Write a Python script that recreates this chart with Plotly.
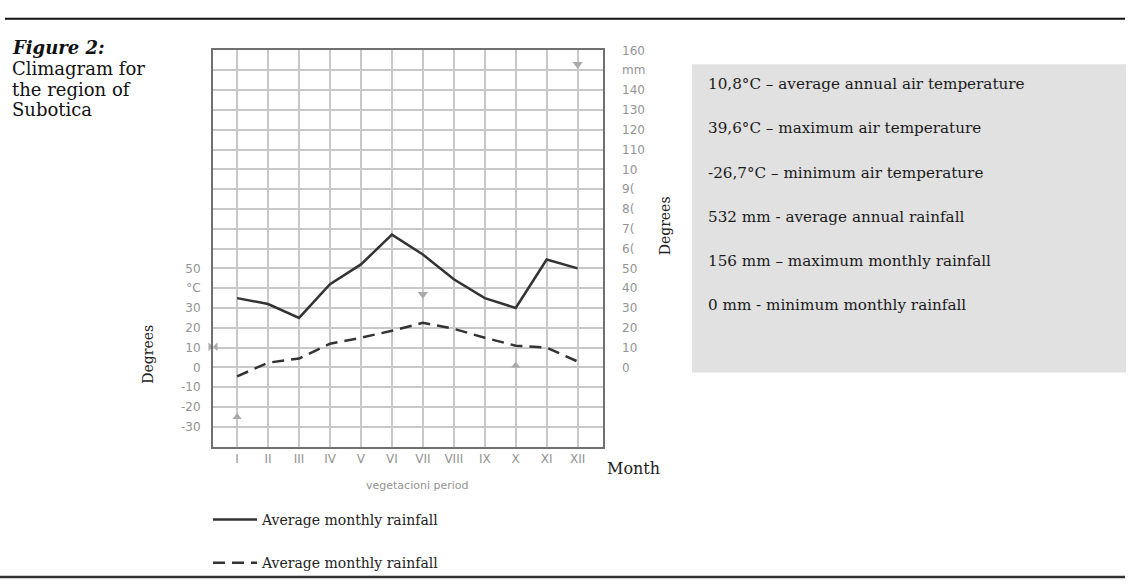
import plotly.graph_objects as go

W, H = 1129, 585

months = ["I", "II", "III", "IV", "V", "VI", "VII", "VIII", "IX", "X", "XI", "XII"]
month_pos = list(range(1, 13))
rainfall = [35, 32, 25, 42, 52, 67, 57, 44.5, 35, 30, 54.5, 50]
temperature = [-4.5, 2.4, 4.5, 12, 15, 18.5, 22.5, 19.5, 15, 11, 10, 3]

# extreme markers (month position, value)
max_pos = [12, 7]
max_val = [153, 37]
min_pos = [10, 1]
min_val = [1, -25]
avg_pos = [0.22]
avg_val = [10.5]

left_vals = [-30, -20, -10, 0, 10, 20, 30, 40, 50]
left_text = ["-30", "-20", "-10", "0", "10", "20", "30", "°C", "50"]
right_vals = [0, 10, 20, 30, 40, 50, 60, 70, 80, 90, 100, 110, 120, 130, 140, 150, 160]
right_text = ["0", "10", "20", "30", "40", "50", "6(", "7(", "8(", "9(", "10", "110", "120", "130", "140", "mm", "160"]

title_lines = ["<b><i>Figure 2:</i></b>", "Climagram for", "the region of", "Subotica"]

stats = [
    "10,8°C – average annual air temperature",
    "39,6°C – maximum air temperature",
    "-26,7°C – minimum air temperature",
    "532 mm - average annual rainfall",
    "156 mm – maximum monthly rainfall",
    "0 mm - minimum monthly rainfall",
]

def px_x(x):
    return x / W

def px_y(y):
    return 1 - y / H

grid_vals = list(range(-40, 161, 10))
left_all_text = [left_text[left_vals.index(v)] if v in left_vals else "" for v in grid_vals]

tick_font = dict(family="DejaVu Sans", size=12, color="#939393")
serif = "DejaVu Serif"

fig = go.Figure()
fig.add_trace(go.Scatter(x=month_pos, y=rainfall, mode="lines",
                         line=dict(color="#333333", width=2.5),
                         name="Average monthly rainfall", legendgroup="a"))
fig.add_trace(go.Scatter(x=month_pos, y=temperature, mode="lines",
                         line=dict(color="#333333", width=2.5, dash="12px,7px"),
                         name="Average monthly rainfall", legendgroup="b"))
fig.add_trace(go.Scatter(x=max_pos, y=max_val, mode="markers", showlegend=False,
                         marker=dict(symbol="triangle-down", size=9, color="#aaaaaa"),
                         cliponaxis=False))
fig.add_trace(go.Scatter(x=min_pos, y=min_val, mode="markers", showlegend=False,
                         marker=dict(symbol="triangle-up", size=8, color="#aaaaaa"),
                         cliponaxis=False))
fig.add_trace(go.Scatter(x=avg_pos, y=avg_val, mode="markers", showlegend=False,
                         marker=dict(symbol="bowtie", size=9, color="#aaaaaa"),
                         cliponaxis=False))
# dummy trace to activate the right axis
fig.add_trace(go.Scatter(x=[None], y=[None], yaxis="y2", showlegend=False))

fig.update_layout(
    width=W, height=H,
    margin=dict(l=0, r=0, t=0, b=0),
    paper_bgcolor="white", plot_bgcolor="white",
    xaxis=dict(domain=[px_x(213), px_x(603)], range=[0.22, 12.82],
               tickvals=month_pos, ticktext=months, tickfont=tick_font,
               showgrid=True, gridcolor="#c8c8c8", gridwidth=1.5,
               showline=True, linecolor="#707070", linewidth=2, mirror=True,
               zeroline=False, ticks="", ticklabelstandoff=0),
    yaxis=dict(domain=[px_y(445), px_y(44)], range=[-40, 160],
               tickvals=grid_vals, ticktext=left_all_text, tickfont=tick_font,
               showgrid=True, gridcolor="#c8c8c8", gridwidth=1.5,
               showline=True, linecolor="#707070", linewidth=2, mirror=True,
               zeroline=False, ticks="", ticklabelstandoff=8),
    yaxis2=dict(overlaying="y", side="right", range=[-40, 160],
                tickvals=right_vals, ticktext=right_text, tickfont=tick_font,
                showgrid=False, zeroline=False, showline=False, ticks="",
                ticklabelstandoff=18),
    showlegend=True,
    legend=dict(x=px_x(208), y=px_y(503), xanchor="left", yanchor="top",
                font=dict(family=serif, size=14, color="#222222"),
                itemwidth=44, tracegroupgap=22, bgcolor="rgba(0,0,0,0)"),
    shapes=[
        dict(type="line", xref="paper", yref="paper", x0=px_x(5), x1=px_x(1125),
             y0=px_y(12), y1=px_y(12), line=dict(color="#111111", width=2)),
        dict(type="line", xref="paper", yref="paper", x0=px_x(0), x1=px_x(1125),
             y0=px_y(577), y1=px_y(577), line=dict(color="#333333", width=2.5)),
        dict(type="rect", xref="paper", yref="paper", x0=px_x(692), x1=px_x(1126),
             y0=px_y(370), y1=px_y(58), fillcolor="#e1e1e1", line=dict(width=0),
             layer="below"),
    ],
)

annotations = []
for i, s in enumerate(title_lines):
    annotations.append(dict(text=s, x=px_x(10), y=px_y(41 + 21 * i), xanchor="left",
                            yanchor="middle",
                            font=dict(family=serif, size=18, color="#111111")))
annotations += [
    dict(text="Degrees", x=px_x(138), y=px_y(352), textangle=-90,
         font=dict(family=serif, size=14, color="#222222")),
    dict(text="Degrees", x=px_x(665), y=px_y(222), textangle=-90,
         font=dict(family=serif, size=14, color="#222222")),
    dict(text="Month", x=px_x(633), y=px_y(479),
         font=dict(family=serif, size=16, color="#222222")),
    dict(text="vegetacioni period", x=px_x(417), y=px_y(493),
         font=dict(family="DejaVu Sans", size=11, color="#939393")),
]
for i, s in enumerate(stats):
    annotations.append(dict(text=s, x=px_x(706), y=px_y(78 + 44.8 * i), xanchor="left",
                            yanchor="middle",
                            font=dict(family=serif, size=15.2, color="#1a1a1a")))
for a in annotations:
    a.update(xref="paper", yref="paper", showarrow=False)
fig.update_layout(annotations=annotations)

fig.write_html("out.html", config={"displayModeBar": False},
               post_script="document.body.style.margin='0';")
